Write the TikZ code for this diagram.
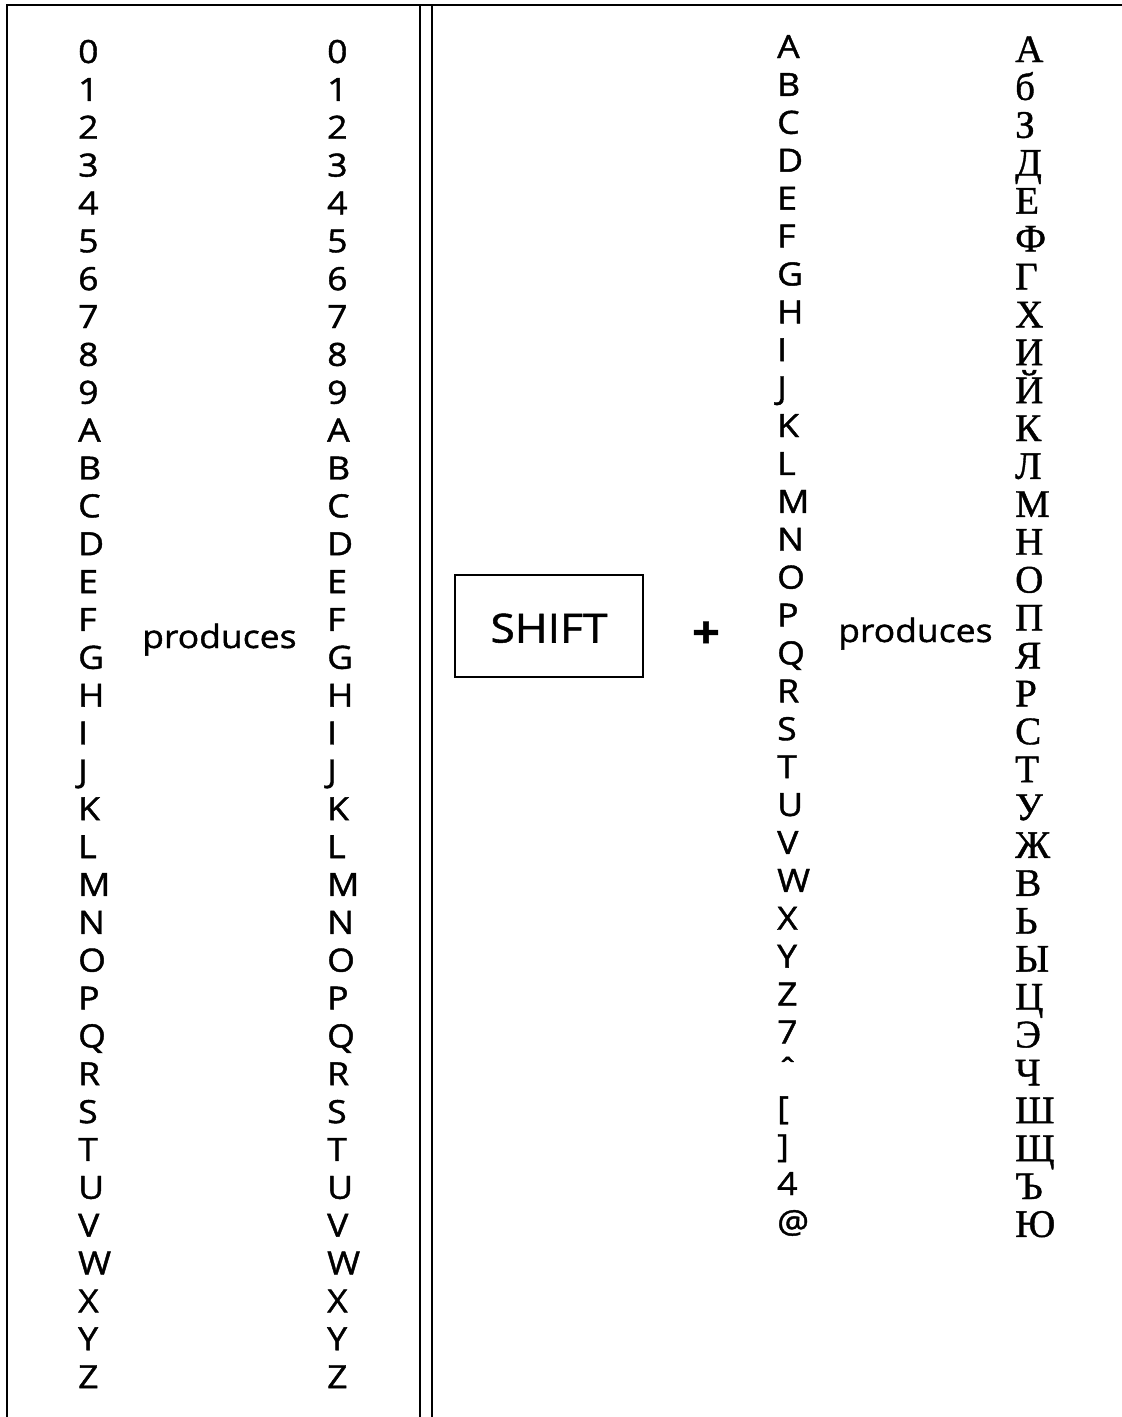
\documentclass[tikz,border=0pt]{standalone}
\usepackage{fontspec}
\setmainfont{Open Sans}[FakeStretch=1.11, FakeBold=1.3]
\newfontfamily\cyrfont{Liberation Serif}[FakeBold=1.0]
\tikzset{
  frame/.style={line width=2.6pt},
  glyph/.style={anchor=base west, inner sep=0pt, font=\fontsize{32}{38}\selectfont},
  cyrglyph/.style={anchor=base west, inner sep=0pt, font=\cyrfont\fontsize{39}{44}\selectfont},
  label/.style={anchor=base west, inner sep=0pt, font=\fontsize{32}{38}\selectfont},
  keybox/.style={draw, line width=1.6pt, minimum width=188pt, minimum height=102pt, inner sep=0pt,
    font=\fontsize{40}{44}\selectfont, text height=33pt, text depth=0pt}
}
\begin{document}
\begin{tikzpicture}[x=1pt,y=-1pt]
\useasboundingbox (0,0) rectangle (1122,1417);
% frame
\coordinate (tl) at (7,5);
\coordinate (tr) at (1122,5);
\coordinate (bl) at (7,1417);
\coordinate (d1t) at (420,5);
\coordinate (d1b) at (420,1417);
\coordinate (d2t) at (432,5);
\coordinate (d2b) at (432,1417);
\draw[frame] (tr) -- (tl) -- (bl);
\draw[frame] (d1t) -- (d1b);
\draw[frame] (d2t) -- (d2b);
% left panel
\foreach \t [count=\i from 0] in {0,1,2,3,4,5,6,7,8,9,A,B,C,D,E,F,G,H,I,J,K,L,M,N,O,P,Q,R,S,T,U,V,W,X,Y,Z}{
  \node[glyph] (la\i) at (78,63+37.86*\i) {\t};
  \node[glyph] (lb\i) at (327,63+37.86*\i) {\t};
}
\node[label] (lprod) at (142,648) {produces};
% right panel
\node[keybox] (shift) at (549,626) {SHIFT};
\node[anchor=base, inner sep=0pt, font=\bfseries\fontsize{44}{48}\selectfont] (plus) at (706,648) {+};
\foreach \t [count=\i from 0] in {A,B,C,D,E,F,G,H,I,J,K,L,M,N,O,P,Q,R,S,T,U,V,W,X,Y,Z,7,ˆ,{[},{]},4,@}{
  \node[glyph] (ra\i) at (777,58+37.9*\i) {\t};
}
\foreach \t [count=\i from 0] in {А,б,З,Д,Е,Ф,Г,Х,И,Й,К,Л,М,Н,О,П,Я,Р,С,Т,У,Ж,В,Ь,Ы,Ц,Э,Ч,Ш,Щ,Ъ,Ю}{
  \node[cyrglyph] (rc\i) at (1015,62+37.9*\i) {\t};
}
\node[label] (rprod) at (838,642) {produces};
\end{tikzpicture}
\end{document}
